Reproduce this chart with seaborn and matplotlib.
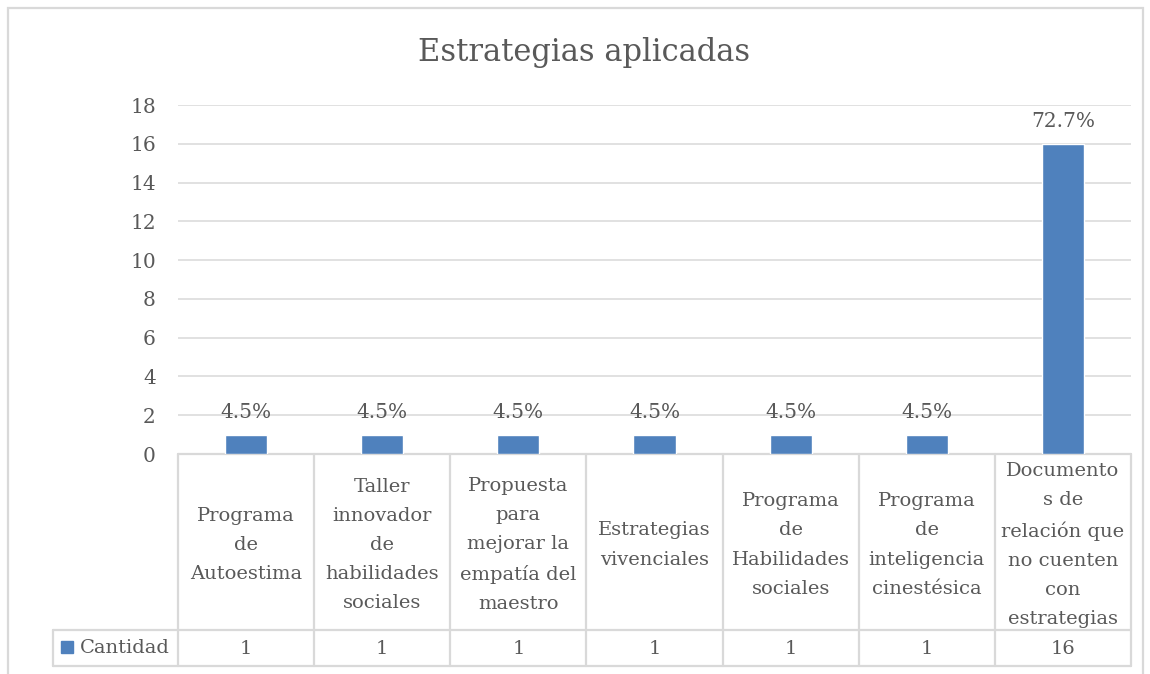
import matplotlib
matplotlib.use("Agg")
import matplotlib.pyplot as plt
import seaborn as sns
import pandas as pd
from matplotlib.transforms import blended_transform_factory
from matplotlib.patches import Rectangle

categories = [
    "Programa de Autoestima",
    "Taller innovador de habilidades sociales",
    "Propuesta para mejorar la empatía del maestro",
    "Estrategias vivenciales",
    "Programa de Habilidades sociales",
    "Programa de inteligencia cinestésica",
    "Documentos de relación que no cuenten con estrategias",
]
table_labels = [
    "Programa\nde\nAutoestima",
    "Taller\ninnovador\nde\nhabilidades\nsociales",
    "Propuesta\npara\nmejorar la\nempatía del\nmaestro",
    "Estrategias\nvivenciales",
    "Programa\nde\nHabilidades\nsociales",
    "Programa\nde\ninteligencia\ncinestésica",
    "Documento\ns de\nrelación que\nno cuenten\ncon\nestrategias",
]
cantidad = [1, 1, 1, 1, 1, 1, 16]
series_name = "Cantidad"
title = "Estrategias aplicadas"
yticks = [0, 2, 4, 6, 8, 10, 12, 14, 16, 18]

BAR = "#4f81bd"
TXT = "#595959"
GRID = "#d9d9d9"
FONT = "DejaVu Serif"

sns.set_theme(style="white")
plt.rcParams["font.family"] = [FONT]

W, H = 1150, 674
fig = plt.figure(figsize=(W / 100, H / 100), dpi=100)

# axes pixel box
L, R, T, B = 178, 1131, 105, 454
ax = fig.add_axes([L / W, 1 - B / H, (R - L) / W, (B - T) / H])

df = pd.DataFrame({"cat": categories, "val": cantidad})
sns.barplot(data=df, x="cat", y="val", color=BAR, width=0.31, saturation=1,
            ax=ax, zorder=3)
ax.set_ylim(0, 18)
ax.set_xlim(-0.5, len(categories) - 0.5)
ax.set_yticks(yticks)
ax.set_yticklabels([str(t) for t in yticks], fontsize=14.5, color=TXT)
ax.set_xticks([])
ax.set_xlabel("")
ax.set_ylabel("")
ax.tick_params(axis="y", length=0, pad=16)
for s in ax.spines.values():
    s.set_visible(False)
ax.yaxis.grid(True, color=GRID, linewidth=1.1, zorder=0)
ax.set_axisbelow(True)

total = sum(cantidad)
for i, v in enumerate(cantidad):
    ax.annotate(f"{v / total * 100:.1f}%", (i, v), xytext=(0, 9),
                textcoords="offset points", ha="center", va="bottom",
                fontsize=14.5, color=TXT)

fig.text(584 / W, 1 - 52 / H, title, ha="center", va="center",
         fontsize=22, color=TXT)

# data table below the axes
def py(p):  # pixel y -> axes fraction
    return (B - p) / (B - T)

tr = blended_transform_factory(ax.transData, ax.transAxes)
n = len(categories)
row_top, row_mid, row_bot = 454, 630, 666
line_kw = dict(color=GRID, linewidth=1.6, clip_on=False, zorder=1)
xl = -0.5 - (L - 53) / ((R - L) / n)
for k in range(n + 1):
    ax.plot([k - 0.5, k - 0.5], [py(row_top), py(row_bot)], transform=tr, **line_kw)
ax.plot([-0.5, n - 0.5], [py(row_top), py(row_top)], transform=tr, **line_kw)
ax.plot([xl, n - 0.5], [py(row_mid)] * 2, transform=tr, **line_kw)
ax.plot([xl, n - 0.5], [py(row_bot)] * 2, transform=tr, **line_kw)
ax.plot([xl, xl], [py(row_mid), py(row_bot)], transform=tr, **line_kw)

for i, lab in enumerate(table_labels):
    ax.text(i, py((row_top + row_mid) / 2 + 3), lab, transform=tr, ha="center",
            va="center", fontsize=14, color=TXT, linespacing=1.8, clip_on=False)
    ax.text(i, py((row_mid + row_bot) / 2 + 1), str(cantidad[i]), transform=tr,
            ha="center", va="center", fontsize=14, color=TXT, clip_on=False)

fig.patches.append(Rectangle((61 / W, 1 - 653 / H), 12 / W, 12 / H,
                             transform=fig.transFigure, color=BAR, zorder=5))
fig.text(80 / W, 1 - 648 / H, series_name, ha="left", va="center",
         fontsize=14, color=TXT)

# chart border
fig.patches.append(Rectangle((8 / W, -0.05), 1135 / W, 1 - 8 / H + 0.05,
                             transform=fig.transFigure, fill=False,
                             edgecolor=GRID, linewidth=1.6))

fig.savefig("out.png", dpi=100)
